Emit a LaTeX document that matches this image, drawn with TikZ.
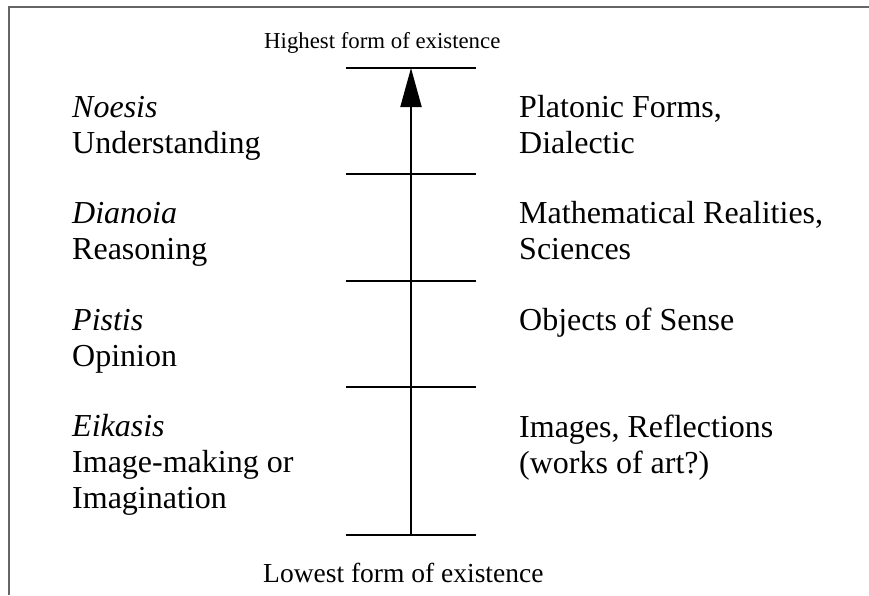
\documentclass[tikz,border=0pt]{standalone}
\usepackage{fontspec}
\setmainfont{Liberation Serif}
\usetikzlibrary{arrows.meta}
\begin{document}
\begin{tikzpicture}[x=1pt,y=-1pt,
  frame/.style={draw=black!60,line width=1.5pt},
  rung/.style={draw=black,line width=2pt},
  axis/.style={draw=black,line width=2pt,-{Triangle[length=39pt,width=21pt]}},
  level/.style={anchor=base west,inner sep=0pt,align=left,
    font=\fontsize{32}{36}\selectfont},
  pole/.style={anchor=base west,inner sep=0pt}]
  \useasboundingbox (0,0) rectangle (869,595);
  % open frame: top and left edges only
  \draw[frame] (869,7) -- (9,7) -- (9,595);

  % rungs of the ladder
  \foreach \y/\n in {68/r4,174/r3,281/r2,387/r1,535/r0}
    \draw[rung] (346,\y) -- (476,\y) coordinate[pos=0.5] (\n);

  % upward axis
  \draw[axis] (r0) -- (r4);

  % poles
  \node[pole,font=\fontsize{22.8}{27}\selectfont] (high) at (264,48) {Highest form of existence};
  \node[pole,font=\fontsize{27.5}{32}\selectfont] (low) at (263,582) {Lowest form of existence};

  % states of mind (anchored on the baseline of the last line)
  \node[level] (noesis)  at (72,153) {\textit{Noesis}\\Understanding};
  \node[level] (dianoia) at (72,259) {\textit{Dianoia}\\Reasoning};
  \node[level] (pistis)  at (72,366) {\textit{Pistis}\\Opinion};
  \node[level] (eikasis) at (72,508) {\textit{Eikasis}\\Image-making or\\Imagination};

  % objects
  \node[level] (forms)   at (519,153) {Platonic Forms,\\Dialectic};
  \node[level] (maths)   at (519,259) {Mathematical Realities,\\Sciences};
  \node[level] (sense)   at (519,330) {Objects of Sense};
  \node[level] (images)  at (519,473) {Images, Reflections\\(works of art?)};
\end{tikzpicture}
\end{document}
